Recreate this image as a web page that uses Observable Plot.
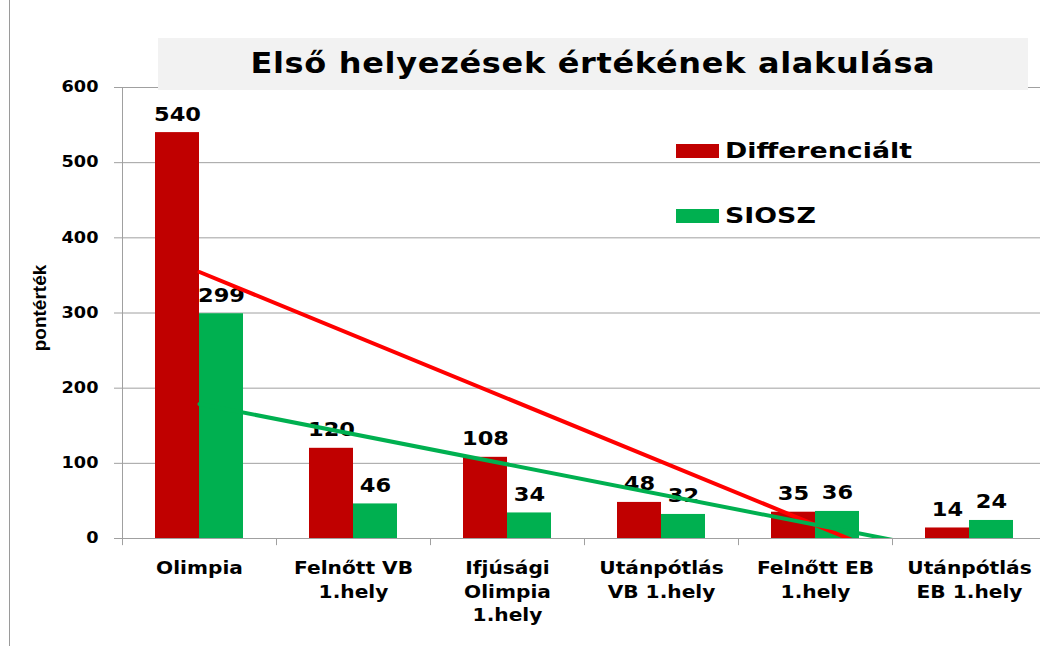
<!DOCTYPE html>
<html>
<head>
<meta charset="utf-8">
<script src="https://cdn.jsdelivr.net/npm/d3@7"></script>
<script src="https://cdn.jsdelivr.net/npm/@observablehq/plot@0.6"></script>
<style>
  html, body { margin: 0; padding: 0; background: #fff; }
  #wrap { position: relative; width: 1040px; height: 646px; overflow: hidden; font-family: "DejaVu Sans", sans-serif; font-weight: bold; }
  #border { position: absolute; left: 9px; top: 0; width: 1px; height: 646px; background: #9a9a9a; }
  #title { position: absolute; left: 158px; top: 38px; width: 870px; height: 52px; background: #f2f2f2; text-align: center; font-size: 28px; line-height: 52px; color: #000; }
  #title span { display: inline-block; transform-origin: center; letter-spacing: 0.6px; }
  .lg { position: absolute; left: 676px; width: 43px; height: 14px; }
  .lgt { position: absolute; left: 725px; font-size: 22px; color: #000; line-height: 22px; transform-origin: left center; white-space: nowrap; }
  #ylab { position: absolute; left: 40px; top: 308px; transform: translate(-50%, -50%) rotate(-90deg); font-family: "Liberation Sans Narrow", "Liberation Sans", sans-serif; font-weight: bold; font-size: 19px; white-space: nowrap; }
  #chart { position: absolute; left: 0; top: 0; }
</style>
</head>
<body>
<div id="wrap">
  <div id="chart"></div>
  <div id="border"></div>
  <div id="title"><span id="tt">Első helyezések értékének alakulása</span></div>
  <div class="lg" style="top:144px;background:#c00000"></div>
  <div class="lgt" id="lg1" style="top:140px">Differenciált</div>
  <div class="lg" style="top:209px;background:#00b050"></div>
  <div class="lgt" id="lg2" style="top:205px">SIOSZ</div>
  <div id="ylab">pontérték</div>
</div>
<script>
const categories = ["Olimpia", "Felnőtt VB\n1.hely", "Ifjúsági\nOlimpia\n1.hely", "Utánpótlás\nVB 1.hely", "Felnőtt EB\n1.hely", "Utánpótlás\nEB 1.hely"];
const seriesNames = ["Differenciált", "SIOSZ"];
const differencialt = [540, 120, 108, 48, 35, 14];
const siosz = [299, 46, 34, 32, 36, 24];
const yTicks = [0, 100, 200, 300, 400, 500, 600];
const colors = {"Differenciált": "#c00000", "SIOSZ": "#00b050"};
const trendColors = {"Differenciált": "#ff0000", "SIOSZ": "#00b050"};

const barW = 44 / 154; // fraction of a category slot per bar

const rows = [];
categories.forEach((c, i) => {
  rows.push({cat: c, idx: i + 1, series: seriesNames[0], value: differencialt[i], side: -1});
  rows.push({cat: c, idx: i + 1, series: seriesNames[1], value: siosz[i], side: 0});
});

// linear trend (least squares), as Excel's linear trendline
function trend(vals, name) {
  const n = vals.length;
  const xs = vals.map((_, i) => i + 1);
  const mx = d3.mean(xs), my = d3.mean(vals);
  const b = d3.sum(xs, (x, i) => (x - mx) * (vals[i] - my)) / d3.sum(xs, x => (x - mx) ** 2);
  const a = my - b * mx;
  return [{x: 1, y: a + b, s: name}, {x: n, y: a + b * n, s: name}];
}
const trends = [...trend(differencialt, seriesNames[0]), ...trend(siosz, seriesNames[1])];

const plot = Plot.plot({
  width: 1040,
  height: 646,
  marginLeft: 122,
  marginRight: 0,
  marginTop: 87,
  marginBottom: 108,
  style: {fontFamily: "DejaVu Sans, sans-serif", fontWeight: "bold", background: "transparent", overflow: "visible"},
  x: {type: "linear", domain: [0.5, 0.5 + 918 / 154], axis: null},
  y: {domain: [0, 600], axis: null},
  marks: [
    Plot.gridY(yTicks, {stroke: "#a0a0a0", strokeOpacity: 1, strokeWidth: 1}),
    Plot.axisY(yTicks, {className: "yt", tickSize: 8, tickPadding: 16, fontSize: 15, stroke: "#a0a0a0", fill: "#000", tickFormat: d => String(d)}),
    Plot.ruleX([0.5], {y1: 0, y2: 600, stroke: "#a0a0a0"}),
    Plot.ruleY([0], {stroke: "#a0a0a0"}),
    Plot.ruleX([0.5, 1.5, 2.5, 3.5, 4.5, 5.5], {x: d => d, y1: 0, y2: -9.5, stroke: "#a0a0a0"}),
    Plot.rectY(rows, {
      x1: d => d.idx + d.side * barW,
      x2: d => d.idx + (d.side + 1) * barW,
      y1: 0, y2: "value",
      fill: d => colors[d.series],
      style: "filter: drop-shadow(1.5px 1px 1.5px rgba(0,0,0,0.35))"
    }),
    Plot.text(rows, {
      className: "vl",
      x: d => d.idx + (d.side + 0.5) * barW,
      y: "value",
      text: d => String(d.value),
      lineAnchor: "bottom",
      dy: -12,
      fontSize: 19,
      fill: "#000"
    }),
    Plot.text(categories, {
      className: "cat",
      x: (d, i) => i + 1,
      y: 0,
      text: d => d,
      lineAnchor: "top",
      dy: 19,
      lineHeight: 1.38,
      fontSize: 17,
      fill: "#000"
    }),
    Plot.line(trends, {x: "x", y: "y", z: "s", stroke: d => trendColors[d.s], strokeWidth: 4, clip: true})
  ]
});
document.getElementById("chart").appendChild(plot);

// horizontal stretch of texts (the reference font is a widened Calibri)
function stretchSvg(sel, sampleIdx, targetW, anchor) {
  const nodes = plot.querySelectorAll(sel);
  if (!nodes.length) return;
  const f = targetW / nodes[sampleIdx].getBBox().width;
  nodes.forEach(t => {
    const bb = t.getBBox();
    const cx = anchor === "end" ? bb.x + bb.width : bb.x + bb.width / 2;
    const tr = t.getAttribute("transform") || "";
    t.setAttribute("transform", `${tr} translate(${cx},0) scale(${f},1) translate(${-cx},0)`);
  });
}
stretchSvg("g.cat text", 0, 87, "middle");
stretchSvg("g.vl text", 0, 47, "middle");
stretchSvg("g.yt text", 6, 37, "end");

function stretchHtml(el, targetW) {
  const w = el.getBoundingClientRect().width;
  el.style.transform = `${el.style.transform || ""} scaleX(${targetW / w})`;
}
stretchHtml(document.getElementById("tt"), 685);
const lg1 = document.getElementById("lg1");
const f1 = 187 / lg1.getBoundingClientRect().width;
lg1.style.transform = `scaleX(${f1})`;
document.getElementById("lg2").style.transform = `scaleX(${f1})`;
</script>
</body>
</html>
